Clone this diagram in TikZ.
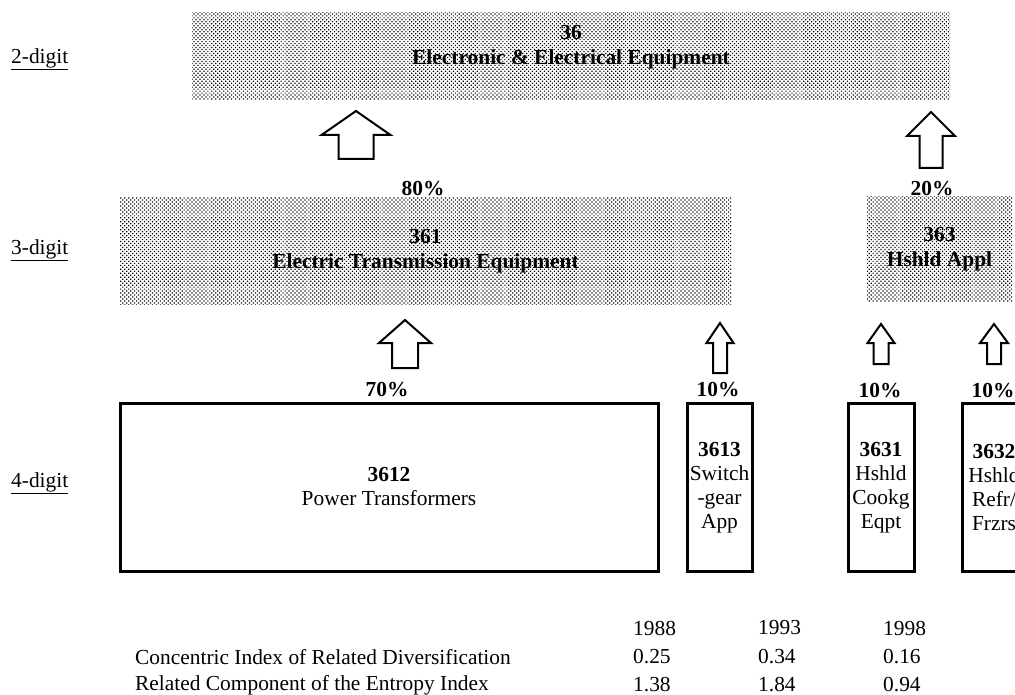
\documentclass[tikz,border=0pt]{standalone}
\usepackage{fontspec}
\setmainfont{Liberation Serif}
\usetikzlibrary{patterns.meta}
\tikzset{
	lvl/.style={anchor=west,inner sep=0pt},
	shadebox/.style={pattern={Dots[distance=2.8pt,radius=0.85pt,angle=45]},pattern color=black,inner sep=0pt,align=center,font=\fontsize{21.4}{25}\selectfont\bfseries},
	codebox/.style={draw,line width=3pt,inner sep=0pt,align=center,minimum height=168pt},
	share/.style={font=\fontsize{21.4}{25}\selectfont\bfseries,inner sep=0pt},
	blockarrow/.style={draw,line width=2pt,line join=miter,fill=white},
	cell/.style={anchor=west,inner sep=0pt}
}
\begin{document}
\begin{tikzpicture}[x=1pt,y=-1pt,font=\fontsize{21.4}{24}\selectfont]
	\useasboundingbox (0,0) rectangle (1015,695);
	\clip (0,0) rectangle (1015,695);
	% levels
	\node[lvl] (l2) at (11,59) {\underline{2-digit}};
	\node[lvl] (l3) at (11,250) {\underline{3-digit}};
	\node[lvl] (l4) at (11,483) {\underline{4-digit}};
	% shaded industry groups
	\node[shadebox,minimum width=758pt,minimum height=87pt,text depth=23pt] (b36) at (571,56.5) {36\\Electronic \& Electrical Equipment};
	\node[shadebox,minimum width=611pt,minimum height=106pt] (b361) at (425.5,251) {361\\Electric Transmission Equipment};
	\node[shadebox,minimum width=145pt,minimum height=104pt] (b363) at (939.5,249) {363\\Hshld Appl};
	% 4-digit industries
	\node[codebox,minimum width=538pt] (b3612) at (389,487) {\textbf{3612}\\Power Transformers};
	\node[codebox,minimum width=65pt] (b3613) at (719.5,487.5) {\textbf{3613}\\Switch\\-gear\\App};
	\node[codebox,minimum width=66pt] (b3631) at (881,487.5) {\textbf{3631}\\Hshld\\Cookg\\Eqpt};
	\node[codebox,minimum width=64pt] (b3632) at (994,487.5) {\textbf{3632}\\Hshld\\Refr/\\Frzrs};
	% block arrows: centre/tip/wing/half width/half stem/bottom
	\foreach \cx/\tp/\wg/\hw/\hs/\bt in {356/111/135/34.5/17.5/159, 931/112/136/24/11.5/168,
		405/320/343/26/13/368, 720/323/343/13.5/7/373, 881/324/343/13.5/7.5/364, 994/324/343/14/7/364}
	\draw[blockarrow] (\cx-\hs,\bt) -- (\cx-\hs,\wg) -- (\cx-\hw,\wg) -- (\cx,\tp)
		-- (\cx+\hw,\wg) -- (\cx+\hs,\wg) -- (\cx+\hs,\bt) -- cycle;
	% shares
	\node[share] (p80) at (423,189) {80\%};
	\node[share] (p20) at (932,189) {20\%};
	\node[share] (p70) at (387,390) {70\%};
	\node[share] (p10a) at (718,390) {10\%};
	\node[share] (p10b) at (880,391) {10\%};
	\node[share] (p10c) at (993,391) {10\%};
	% indices
	\node[cell] (yr1) at (633,628) {1988};
	\node[cell] (yr2) at (758,628) {1993};
	\node[cell] (yr3) at (883,628) {1998};
	\node[cell] (ci) at (135,657) {Concentric Index of Related Diversification};
	\node[cell] (rc) at (135,685) {Related Component of the Entropy Index};
	\foreach \v [count=\i] in {0.25,0.34,0.16}
	\node[cell] (ci\i) at (633+125*\i-125,657) {\v};
	\foreach \v [count=\i] in {1.38,1.84,0.94}
	\node[cell] (rc\i) at (633+125*\i-125,685) {\v};
\end{tikzpicture}
\end{document}
